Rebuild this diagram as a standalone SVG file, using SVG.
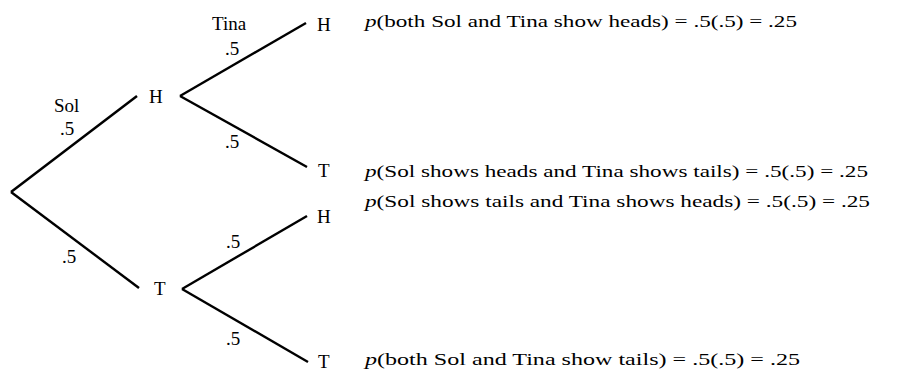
<svg xmlns="http://www.w3.org/2000/svg" width="897" height="376" viewBox="0 0 897 376">
<style>
text{font-family:"Liberation Serif","DejaVu Serif",serif;font-size:17px;fill:#000}
text.lbl{font-size:19px}
text.nd{font-size:19px}
line{stroke:#000;stroke-width:2.4;fill:none}
.it{font-style:italic}
</style>
<rect width="897" height="376" fill="#fff"/>
<g id="connectors">
<line x1="137" y1="96" x2="11" y2="192"/>
<line x1="11" y1="192" x2="139" y2="288"/>
<line x1="306" y1="23" x2="180" y2="96"/>
<line x1="180" y1="96" x2="307" y2="167"/>
<line x1="307" y1="216" x2="182" y2="289"/>
<line x1="182" y1="289" x2="308" y2="362"/>
</g>
<g id="edge-labels">
<text class="lbl" x="54" y="112">Sol</text>
<text class="lbl" x="60" y="135">.5</text>
<text class="lbl" x="62" y="263">.5</text>
<text class="lbl" x="212" y="30">Tina</text>
<text class="lbl" x="225" y="55">.5</text>
<text class="lbl" x="225" y="148">.5</text>
<text class="lbl" x="226" y="248">.5</text>
<text class="lbl" x="226" y="345">.5</text>
</g>
<g id="node-H1"><text class="nd" x="149" y="103">H</text></g>
<g id="node-T1"><text class="nd" x="154" y="295">T</text></g>
<g id="node-HH"><text class="nd" x="317" y="31">H</text><text x="365" y="27" textLength="432" lengthAdjust="spacingAndGlyphs"><tspan class="it">p</tspan>(both Sol and Tina show heads) = .5(.5) = .25</text></g>
<g id="node-HT"><text class="nd" x="318" y="177">T</text><text x="365" y="177" textLength="503" lengthAdjust="spacingAndGlyphs"><tspan class="it">p</tspan>(Sol shows heads and Tina shows tails) = .5(.5) = .25</text></g>
<g id="node-TH"><text class="nd" x="317" y="223">H</text><text x="365" y="207" textLength="505" lengthAdjust="spacingAndGlyphs"><tspan class="it">p</tspan>(Sol shows tails and Tina shows heads) = .5(.5) = .25</text></g>
<g id="node-TT"><text class="nd" x="318" y="368">T</text><text x="365" y="365" textLength="435" lengthAdjust="spacingAndGlyphs"><tspan class="it">p</tspan>(both Sol and Tina show tails) = .5(.5) = .25</text></g>
</svg>
